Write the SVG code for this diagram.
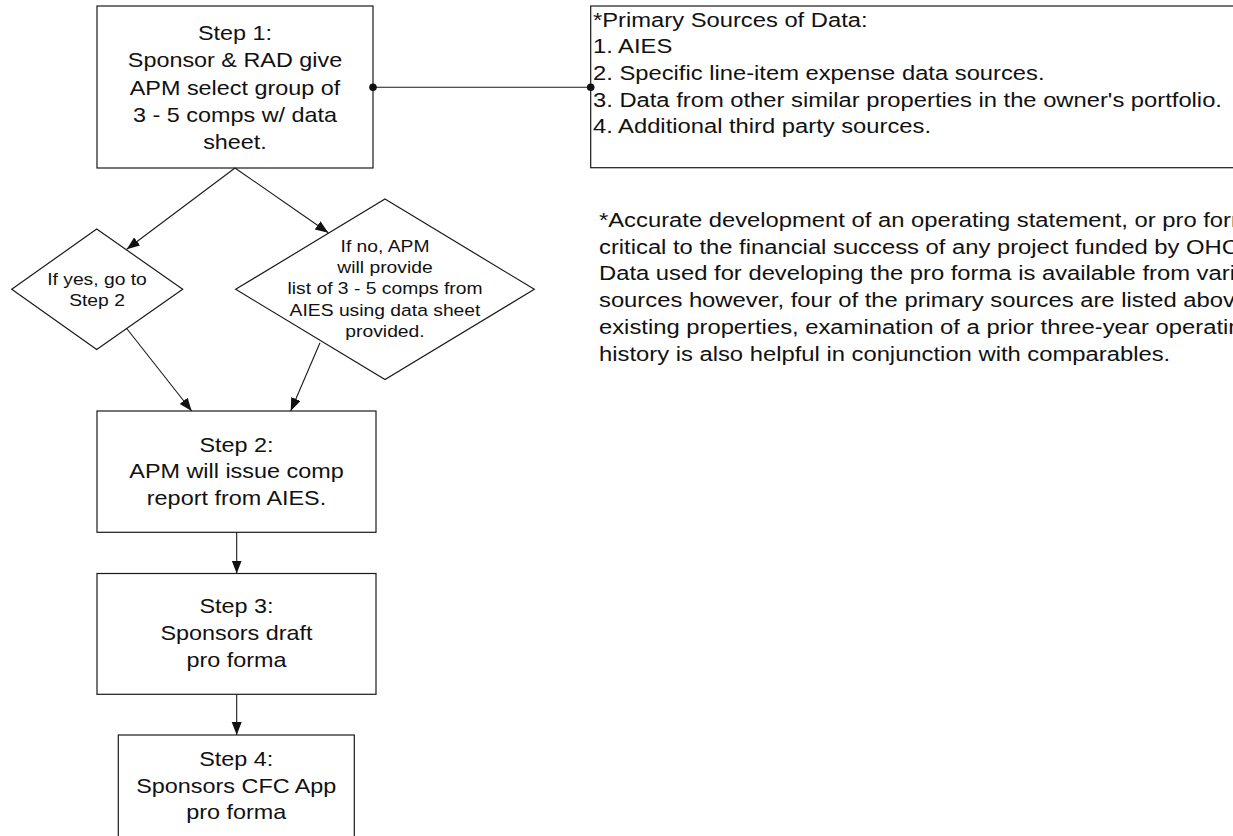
<svg xmlns="http://www.w3.org/2000/svg" width="1233" height="836" viewBox="0 0 1233 836">
<style>
.shape{fill:#fff;stroke:#1a1a1a;stroke-width:1.2}
.edge{fill:none;stroke:#1a1a1a;stroke-width:1.1}
.dot{fill:#111}
.t{font-family:"Liberation Sans",Arial,sans-serif;font-size:20px;fill:#111}
.s{font-family:"Liberation Sans",Arial,sans-serif;font-size:16.5px;fill:#111}
.c{text-anchor:middle}
</style>
<defs>
<marker id="arrow" markerUnits="userSpaceOnUse" markerWidth="14" markerHeight="12" refX="13" refY="5" orient="auto">
<path d="M0,0 L13,5 L0,10 z" fill="#111"/>
</marker>
</defs>
<rect width="1233" height="836" fill="#fff"/>
<g id="step1">
<rect class="shape" x="97" y="6" width="276" height="162"/>
<g class="t c" transform="translate(235 0) scale(1.17 1)">
<text x="0" y="40">Step 1:</text>
<text x="0" y="67.3">Sponsor &amp; RAD give</text>
<text x="0" y="94.6">APM select group of</text>
<text x="0" y="121.9">3 - 5 comps w/ data</text>
<text x="0" y="149.2">sheet.</text>
</g>
</g>
<g id="sources">
<rect class="shape" x="590.7" y="6" width="660" height="161.7"/>
<g class="t" transform="translate(593 0) scale(1.188 1)">
<text x="0" y="27">*Primary Sources of Data:</text>
<text x="0" y="53.5">1. AIES</text>
<text x="0" y="80">2. Specific line-item expense data sources.</text>
<text x="0" y="106.7">3. Data from other similar properties in the owner's portfolio.</text>
<text x="0" y="133.3">4. Additional third party sources.</text>
</g>
</g>
<g id="note">
<g class="t" transform="translate(599 0) scale(1.19 1)">
<text x="0" y="226.7">*Accurate development of an operating statement, or pro forma, is</text>
<text x="0" y="253.6">critical to the financial success of any project funded by OHCS.</text>
<text x="0" y="280.5">Data used for developing the pro forma is available from various</text>
<text x="0" y="307.4">sources however, four of the primary sources are listed above. For</text>
<text x="0" y="334.3">existing properties, examination of a prior three-year operating</text>
<text x="0" y="361.2">history is also helpful in conjunction with comparables.</text>
</g>
</g>
<g id="yes">
<polygon class="shape" points="96.7,229 182.7,289.3 96.7,349.6 11.7,289.3"/>
<g class="s c" transform="translate(97 0) scale(1.17 1)">
<text x="0" y="285">If yes, go to</text>
<text x="0" y="306">Step 2</text>
</g>
</g>
<g id="no">
<polygon class="shape" points="385,199 534.3,289.3 385,379.6 235.7,289.3"/>
<g class="s c" transform="translate(385 0) scale(1.17 1)">
<text x="0" y="251.7">If no, APM</text>
<text x="0" y="273">will provide</text>
<text x="0" y="294.3">list of 3 - 5 comps from</text>
<text x="0" y="315.6">AIES using data sheet</text>
<text x="0" y="337">provided.</text>
</g>
</g>
<g id="step2">
<rect class="shape" x="97" y="411" width="279" height="121.3"/>
<g class="t c" transform="translate(236.5 0) scale(1.17 1)">
<text x="0" y="451.7">Step 2:</text>
<text x="0" y="478.4">APM will issue comp</text>
<text x="0" y="505.1">report from AIES.</text>
</g>
</g>
<g id="step3">
<rect class="shape" x="97" y="573.5" width="279" height="120.8"/>
<g class="t c" transform="translate(236.5 0) scale(1.17 1)">
<text x="0" y="613.3">Step 3:</text>
<text x="0" y="640">Sponsors draft</text>
<text x="0" y="666.7">pro forma</text>
</g>
</g>
<g id="step4">
<rect class="shape" x="118.3" y="735" width="236" height="120"/>
<g class="t c" transform="translate(236.3 0) scale(1.17 1)">
<text x="0" y="766">Step 4:</text>
<text x="0" y="792.7">Sponsors CFC App</text>
<text x="0" y="819.4">pro forma</text>
</g>
</g>
<g id="connectors">
<path class="edge" d="M235,168 L126.7,249.3" marker-end="url(#arrow)"/>
<path class="edge" d="M235,168 L328.3,232.8" marker-end="url(#arrow)"/>
<path class="edge" d="M126.7,328.5 L191.7,411" marker-end="url(#arrow)"/>
<path class="edge" d="M320,342.7 L290.7,411" marker-end="url(#arrow)"/>
<path class="edge" d="M236.7,532.3 L236.7,573.5" marker-end="url(#arrow)"/>
<path class="edge" d="M236.7,694.3 L236.7,735" marker-end="url(#arrow)"/>
<path class="edge" d="M373,87.3 L590.7,87.3"/>
<circle class="dot" cx="373" cy="87.3" r="3.8"/>
<circle class="dot" cx="590.7" cy="87.3" r="3.8"/>
</g>
</svg>
